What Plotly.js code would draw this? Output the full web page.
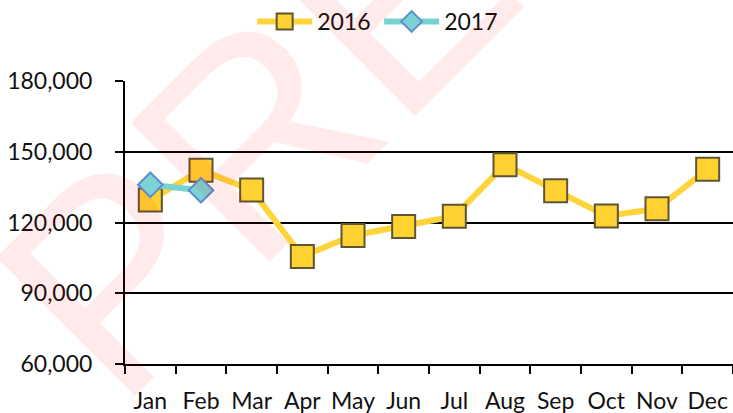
<!DOCTYPE html>
<html>
<head>
<meta charset="utf-8">
<script src="https://cdn.plot.ly/plotly-3.0.1.min.js"></script>
<style>html,body{margin:0;padding:0;background:#fff;}#chart{width:733px;height:413px;}</style>
</head>
<body>
<div id="chart"></div>
<script>
const months = ["Jan","Feb","Mar","Apr","May","Jun","Jul","Aug","Sep","Oct","Nov","Dec"];
const values2016 = [129500, 142200, 133800, 105600, 114500, 118300, 122700, 144500, 133500, 122800, 125800, 142600];
const months2017 = ["Jan","Feb"];
const values2017 = [136000, 133700];
const yTicks = [60000, 90000, 120000, 150000, 180000];
const watermark = "PREVIEW";

const font = "Lato, 'Open Sans', sans-serif";

const traces = [
  {
    name: "2016", type: "scatter", mode: "lines+markers",
    x: months, y: values2016,
    line: {color: "#FFD43B", width: 6},
    marker: {symbol: "square", size: 23, color: "#FFD232", line: {color: "#5E5535", width: 2}}
  },
  {
    name: "2017", type: "scatter", mode: "lines+markers",
    x: months2017, y: values2017,
    line: {color: "#78D2D0", width: 6},
    marker: {symbol: "diamond", size: 19, color: "#7DD3D3", line: {color: "#5B8FD0", width: 2}}
  }
];

const layout = {
  width: 733, height: 413,
  margin: {l: 125, r: 0, t: 81, b: 49},
  paper_bgcolor: "#fff", plot_bgcolor: "rgba(0,0,0,0)",
  font: {family: font, size: 23, color: "#111"},
  showlegend: true,
  legend: {
    orientation: "h", xref: "container", yref: "container",
    x: 0.344, xanchor: "left", y: 1.0, yanchor: "top",
    font: {family: font, size: 23, color: "#111"},
    bgcolor: "rgba(0,0,0,0)", itemwidth: 55, entrywidth: 57, entrywidthmode: "pixels", tracegroupgap: 0
  },
  xaxis: {
    type: "category", categoryarray: months, range: [-0.5, 11.5],
    tickson: "boundaries", ticks: "outside", ticklen: 8, tickwidth: 2, tickcolor: "#000",
    showline: true, linecolor: "#000", linewidth: 2,
    showgrid: false, zeroline: false, tickangle: 0,
    tickfont: {family: font, size: 23, color: "#111"},
    ticklabelstandoff: 15, fixedrange: true
  },
  yaxis: {
    range: [60000, 180000], tickvals: yTicks, tickformat: ",",
    ticks: "outside", ticklen: 8, tickwidth: 2, tickcolor: "#000",
    showline: true, linecolor: "#000", linewidth: 2,
    showgrid: true, gridcolor: "#000", gridwidth: 2, zeroline: false,
    tickfont: {family: font, size: 23, color: "#111"},
    ticklabelstandoff: 18, fixedrange: true
  },
  annotations: [{
    text: watermark, xref: "paper", yref: "paper",
    x: 0.64, y: 1.72, xanchor: "center", yanchor: "middle",
    textangle: -45, showarrow: false,
    font: {family: "'Liberation Sans', sans-serif", size: 285, color: "rgba(255,0,0,0.08)"}
  }]
};

Plotly.newPlot("chart", traces, layout, {displayModeBar: false, staticPlot: true});
</script>
</body>
</html>
